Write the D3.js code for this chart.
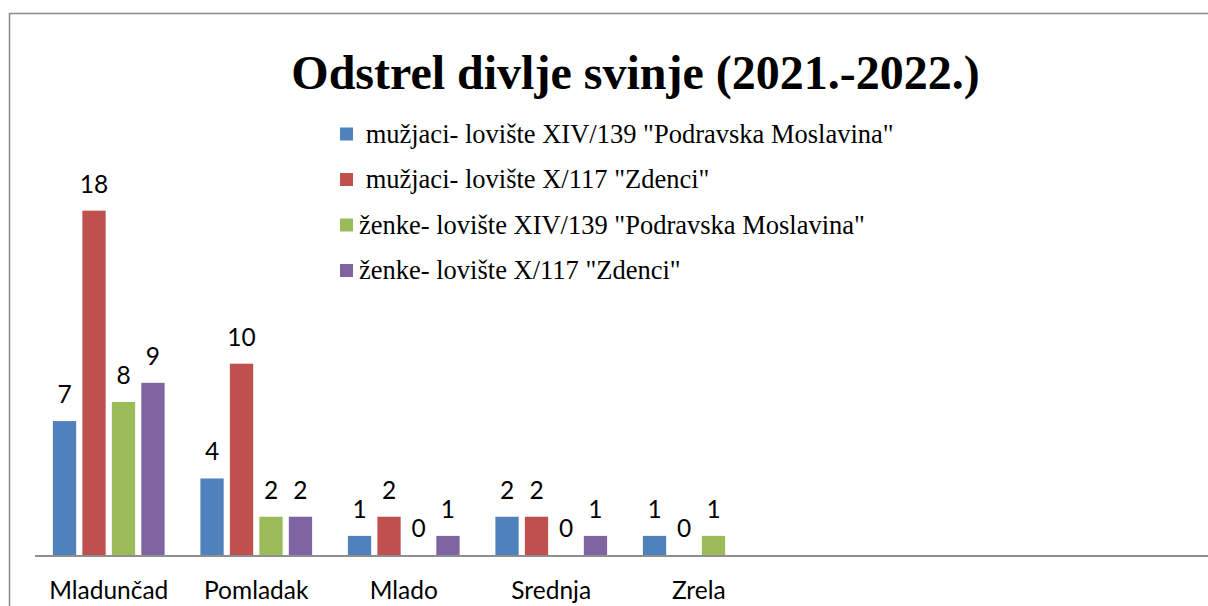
<!DOCTYPE html>
<html><head><meta charset="utf-8">
<script src="https://cdn.jsdelivr.net/npm/d3@7"></script>
<style>html,body{margin:0;padding:0;background:#fff;overflow:hidden}</style>
</head><body>
<svg id="c" width="1208" height="606"></svg>
<script>
const title = "Odstrel divlje svinje (2021.-2022.)";
const categories = ["Mladunčad", "Pomladak", "Mlado", "Srednja", "Zrela"];
const slotCount = 8; // axis continues with empty category slots
const seriesNames = [
  " mužjaci- lovište XIV/139 \"Podravska Moslavina\"",
  " mužjaci- lovište X/117 \"Zdenci\"",
  "ženke- lovište XIV/139 \"Podravska Moslavina\"",
  "ženke- lovište X/117 \"Zdenci\""
];
const seriesColors = ["#4F81BD", "#C0504D", "#9BBB59", "#8064A2"];
const muzjaciPM = [7, 4, 1, 2, 1];
const muzjaciZd = [18, 10, 2, 2, 0];
const zenkePM = [8, 2, 0, 0, 1];
const zenkeZd = [9, 2, 1, 1, null];
const seriesValues = [muzjaciPM, muzjaciZd, zenkePM, zenkeZd];
const yMax = 20;

const svg = d3.select("#c");
svg.append("rect").attr("x", 9.5).attr("y", 13.5).attr("width", 1300).attr("height", 700)
  .attr("fill", "#fff").attr("stroke", "#8a8a8a").attr("stroke-width", 1.5);

svg.append("text").attr("x", 635.5).attr("y", 89).attr("text-anchor", "middle")
  .attr("font-family", "Liberation Serif").attr("font-weight", "bold").attr("font-size", 48)
  .attr("fill", "#000").text(title);

const x0 = d3.scaleBand().domain(d3.range(slotCount)).range([35, 35 + 147.5 * slotCount]);
const x1 = d3.scaleBand().domain(d3.range(seriesNames.length)).range([0, x0.bandwidth()])
  .paddingInner(0.21).paddingOuter(0.607);
const y = d3.scaleLinear().domain([0, yMax]).range([555, 555 - 19.13 * yMax]);

const groups = svg.append("g").selectAll("g").data(categories).join("g")
  .attr("transform", (d, i) => `translate(${x0(i)},0)`);

groups.each(function(cat, ci) {
  const g = d3.select(this);
  const vals = seriesValues.map((s, si) => ({ si, v: s[ci] }));
  g.selectAll("rect").data(vals.filter(d => d.v != null && d.v > 0)).join("rect")
    .attr("x", d => x1(d.si)).attr("width", x1.bandwidth())
    .attr("y", d => y(d.v)).attr("height", d => y(0) - y(d.v))
    .attr("fill", d => seriesColors[d.si]);
  g.selectAll("text.lbl").data(vals.filter(d => d.v != null)).join("text").attr("class", "lbl")
    .attr("x", d => x1(d.si) + x1.bandwidth() / 2).attr("y", d => y(d.v) - 18)
    .attr("text-anchor", "middle").attr("font-family", "Lato").attr("font-size", 24.5)
    .attr("fill", "#000").text(d => d.v);
  g.append("text").attr("x", x0.bandwidth() / 2).attr("y", 598.5).attr("text-anchor", "middle")
    .attr("font-family", "Lato").attr("font-size", 24.5).attr("fill", "#000").text(cat);
});

svg.append("line").attr("x1", 35).attr("x2", 1240).attr("y1", 556).attr("y2", 556)
  .attr("stroke", "#8e8e8e").attr("stroke-width", 2);

const leg = svg.append("g").selectAll("g").data(seriesNames).join("g")
  .attr("transform", (d, i) => `translate(340,${134 + i * 45.5})`);
leg.append("rect").attr("x", 0).attr("y", -6.5).attr("width", 13).attr("height", 13)
  .attr("fill", (d, i) => seriesColors[i]);
leg.append("text").attr("x", 19).attr("y", 8.5).attr("font-family", "Liberation Serif")
  .attr("font-size", 26.5).attr("fill", "#000").style("white-space", "pre").text(d => d);
</script>
</body></html>
